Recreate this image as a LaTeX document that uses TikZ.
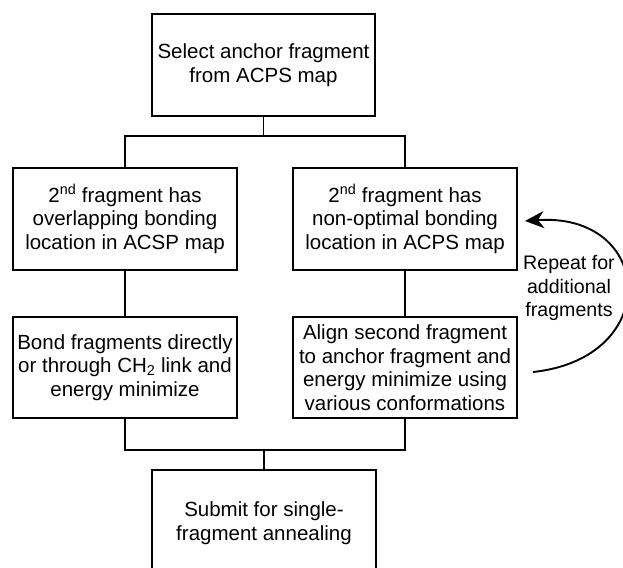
\documentclass[tikz,border=0pt]{standalone}
\usepackage{fontspec}
\setmainfont{Liberation Sans}
\usetikzlibrary{arrows.meta}
\begin{document}
\begin{tikzpicture}[x=1pt,y=-1pt,
  txt/.style={align=center, inner sep=0pt, font=\fontsize{20.5}{23.6}\selectfont},
  box/.style={txt, draw, line width=1.9pt, minimum width=224pt, minimum height=102pt},
  link/.style={line width=1.9pt},
  loop/.style={line width=1.9pt, -{Stealth[length=19pt, width=17pt, inset=6pt]}}]
\useasboundingbox (0,0) rectangle (623,567);
\begin{scope}
\clip (0,0) rectangle (623,567);

% process steps
\node[box, minimum width=223pt] (sel) at (263.5,65) {Select anchor fragment\\from ACPS map};
\node[box] (ovl) at (125,219) {2\textsuperscript{nd} fragment has\\overlapping bonding\\location in ACSP map};
\node[box] (nop) at (405,219) {2\textsuperscript{nd} fragment has\\non-optimal bonding\\location in ACPS map};
\node[box, minimum height=101pt] (bnd) at (125,367.5) {Bond fragments directly\\or through CH\textsubscript{2} link and\\energy minimize};
\node[box, minimum height=101pt] (aln) at (405,367.5) {Align second fragment\\to anchor fragment and\\energy minimize using\\various conformations};
\node[box, minimum height=106pt] (sub) at (264,523) {Submit for single-\\fragment annealing};

% branching from the anchor step
\draw[link] (sel.south) -- ++(0,19) coordinate (fork);
\draw[link] (ovl.north) |- (fork) -| (nop.north);

% straight links within each branch
\draw[link] (ovl) -- (bnd);
\draw[link] (nop) -- (aln);

% branches joining into the final step
\coordinate (joinY) at (0,450);
\draw[link] (bnd.south) |- (sub.north |- joinY) -| (aln.south);
\draw[link] (sub.north) -- (sub.north |- joinY);

% repeat loop
\coordinate (loopA) at ([xshift=15pt, yshift=-4.5pt]aln.east);
\coordinate (loopB) at ([xshift=7pt, yshift=-2pt]nop.east);
\draw[loop] (loopA) .. controls (664,358) and (654,212) .. (loopB);
\node[txt, font=\fontsize{19.6}{23.6}\selectfont] (rep) at (569,288) {Repeat for\\additional\\fragments};
\end{scope}
\end{tikzpicture}
\end{document}
